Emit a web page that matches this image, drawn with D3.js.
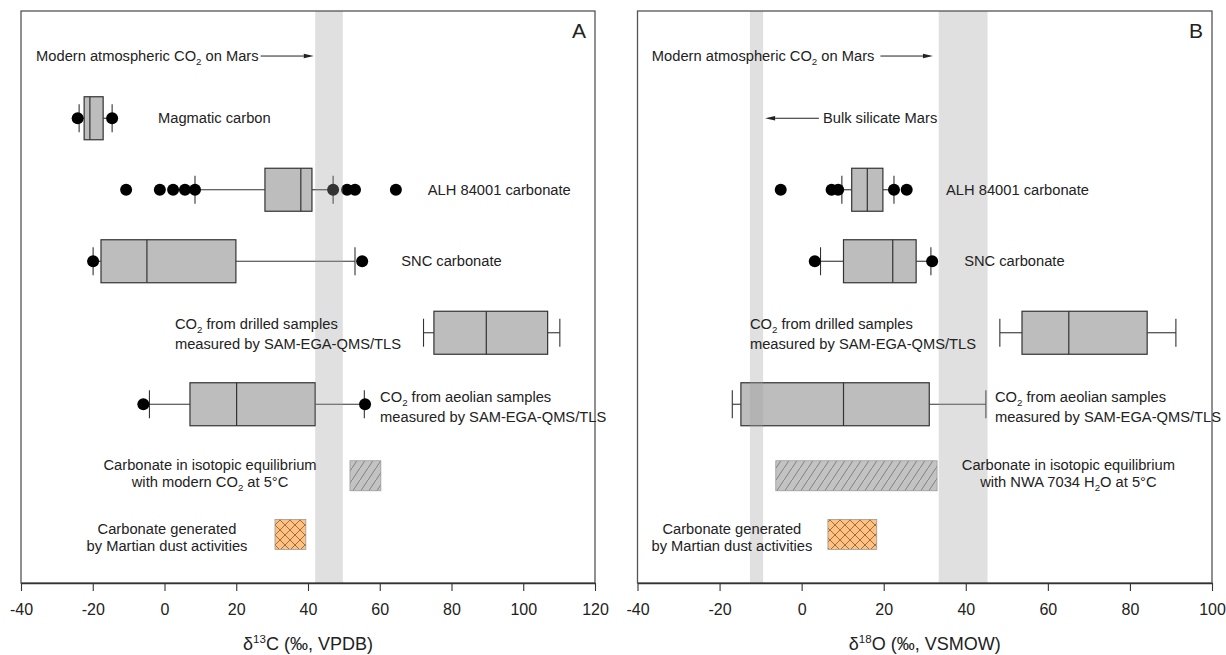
<!DOCTYPE html>
<html>
<head>
<meta charset="utf-8">
<script src="https://cdn.jsdelivr.net/npm/d3@7"></script>
<style>
body { margin: 0; background: #fff; }
text { font-family: "Liberation Sans", Arial, sans-serif; fill: #222; }
</style>
</head>
<body>
<svg id="chart" width="1226" height="655"></svg>
<script>
// ---- Panel A: d13C (permil, VPDB)
var carbonTicks = [-40, -20, 0, 20, 40, 60, 80, 100, 120];
var carbonBoxes = [
    {name: "magmatic", lo: -23.8, q1: -22.4, med: -20.8, q3: -17.1, hi: -14.6, out: [-24.2, -14.6]},
    {name: "alh",      lo: 8.5,   q1: 28.0,  med: 38.0,  q3: 41.1,  hi: 47.0,  out: [-10.7, -1.3, 2.4, 5.7, 8.5, 47.0, 50.9, 53.1, 64.5]},
    {name: "snc",      lo: -19.9, q1: -17.7, med: -4.9,  q3: 19.9,  hi: 53.1,  out: [-19.9, 55.1]},
    {name: "drilled",  lo: 72.2,  q1: 75.1,  med: 89.7,  q3: 106.8, hi: 110.2, out: []},
    {name: "aeolian",  lo: -4.2,  q1: 7.1,   med: 20.1,  q3: 42.0,  hi: 55.7,  out: [-5.9, 55.9]}
];
var carbonRanges = [
    {name: "equilibrium", lo: 51.7, hi: 60.3, kind: "hatch"},
    {name: "dust",        lo: 30.8, hi: 39.4, kind: "cross"}
];
var carbonBands = [[42.0, 49.7]];   // modern atmospheric CO2

// ---- Panel B: d18O (permil, VSMOW)
var oxygenTicks = [-40, -20, 0, 20, 40, 60, 80, 100];
var oxygenBoxes = [
    {name: "alh",     lo: 9.8,   q1: 12.2,  med: 16.0, q3: 19.8, hi: 22.5, out: [-5.1, 7.3, 8.9, 22.5, 25.6]},
    {name: "snc",     lo: 4.6,   q1: 10.2,  med: 22.2, q3: 27.9, hi: 31.5, out: [3.2, 31.8]},
    {name: "drilled", lo: 48.3,  q1: 53.7,  med: 65.1, q3: 84.2, hi: 91.2, out: []},
    {name: "aeolian", lo: -16.9, q1: -14.8, med: 10.2, q3: 31.1, hi: 44.9, out: []}
];
var oxygenRanges = [
    {name: "equilibrium", lo: -6.3, hi: 33.0, kind: "hatch"},
    {name: "dust",        lo: 6.4,  hi: 18.3, kind: "cross"}
];
var oxygenBands = [[-12.6, -9.4], [33.4, 45.3]];   // bulk silicate Mars, modern atmospheric CO2

// ---- label texts (_{..} = subscript)
var labelsA = {
    atmos: ["Modern atmospheric CO_{2} on Mars"],
    magmatic: ["Magmatic carbon"],
    alh: ["ALH 84001 carbonate"],
    snc: ["SNC carbonate"],
    drilled: ["CO_{2} from drilled samples", "measured by SAM-EGA-QMS/TLS"],
    aeolian: ["CO_{2} from aeolian samples", "measured by SAM-EGA-QMS/TLS"],
    equilibrium: ["Carbonate in isotopic equilibrium", "with modern CO_{2} at 5°C"],
    dust: ["Carbonate generated", "by Martian dust activities"]
};
var labelsB = {
    atmos: ["Modern atmospheric CO_{2} on Mars"],
    silicate: ["Bulk silicate Mars"],
    alh: ["ALH 84001 carbonate"],
    snc: ["SNC carbonate"],
    drilled: ["CO_{2} from drilled samples", "measured by SAM-EGA-QMS/TLS"],
    aeolian: ["CO_{2} from aeolian samples", "measured by SAM-EGA-QMS/TLS"],
    equilibrium: ["Carbonate in isotopic equilibrium", "with NWA 7034 H_{2}O at 5°C"],
    dust: ["Carbonate generated", "by Martian dust activities"]
};

// ---- layout
var rowOf = {atmos: 0.13, magmatic: 1, silicate: 1, alh: 2, snc: 3, drilled: 4, aeolian: 5, equilibrium: 6, dust: 6.82};
var lineOffsets = {
    1: [0],
    drilled: [-8.5, 11.5],
    aeolian: [-7, 13],
    equilibrium: [-10.5, 6.5],
    dust: [-5.5, 11.5]
};
var labelSize = 14.7;
var plotTop = 11, plotBottom = 583;
var y = d3.scaleLinear().domain([-0.5, 7.5]).range([plotTop, plotBottom]);

var panels = [
    {
        letter: "A", left: 21, right: 595, domain: [-40, 120], ticks: carbonTicks,
        boxes: carbonBoxes, ranges: carbonRanges, bands: carbonBands, labels: labelsA,
        axisTitle: ["δ", "13", "C (‰, VPDB)"],
        labelAt: {atmos: [-35.8, "start"], magmatic: [-1.8, "start"], alh: [73.4, "start"],
                  snc: [66.0, "start"], drilled: [2.9, "start"], aeolian: [60.1, "start"],
                  equilibrium: [12.7, "middle"], dust: [0.7, "middle"]},
        arrows: [{row: "atmos", from: 26.8, to: 41.6}]
    },
    {
        letter: "B", left: 637.5, right: 1212, domain: [-40, 100], ticks: oxygenTicks,
        boxes: oxygenBoxes, ranges: oxygenRanges, bands: oxygenBands, labels: labelsB,
        axisTitle: ["δ", "18", "O (‰, VSMOW)"],
        labelAt: {atmos: [-36.5, "start"], silicate: [5.2, "start"], alh: [35.2, "start"],
                  snc: [39.6, "start"], drilled: [-12.6, "start"], aeolian: [47.1, "start"],
                  equilibrium: [65.0, "middle"], dust: [-17.0, "middle"]},
        arrows: [{row: "atmos", from: 19.2, to: 32.0}, {row: "silicate", from: 4.2, to: -8.9}]
    }
];

var svg = d3.select("#chart");
var defs = svg.append("defs");

// diagonal hatch for the equilibrium range
var hatch = defs.append("pattern").attr("id", "hatch")
    .attr("patternUnits", "userSpaceOnUse").attr("width", 8).attr("height", 12);
hatch.append("rect").attr("width", 8).attr("height", 12).attr("fill", "#c3c3c3");
hatch.append("path").attr("d", "M-1,13.5L9,-1.5")
    .attr("stroke", "#6e6e6e").attr("stroke-width", 0.8);

// cross hatch for the dust range
var cross = defs.append("pattern").attr("id", "cross")
    .attr("patternUnits", "userSpaceOnUse").attr("width", 10).attr("height", 10);
cross.append("rect").attr("width", 10).attr("height", 10).attr("fill", "#ffc080");
cross.append("path").attr("d", "M0,0L10,10M10,0L0,10")
    .attr("stroke", "#6b4c2e").attr("stroke-width", 0.7);

// writes a text line, turning _{..} into subscripts
function richText(g, str, x, yy, anchor, size) {
    var t = g.append("text").attr("x", x).attr("y", yy)
        .attr("text-anchor", anchor).style("font-size", size + "px");
    var parts = str.split(/(_\{[^}]*\})/);
    var shifted = false;
    parts.forEach(function(p) {
        if (!p) return;
        if (p.indexOf("_{") === 0) {
            t.append("tspan").attr("dy", 4).style("font-size", (size * 0.66) + "px")
                .text(p.slice(2, -1));
            shifted = true;
        } else {
            var s = t.append("tspan").text(p);
            if (shifted) { s.attr("dy", -4); shifted = false; }
        }
    });
    return t;
}

function arrow(g, x1, x2, yy) {
    var dir = x2 > x1 ? 1 : -1, len = 10, half = 2.3;
    g.append("line").attr("x1", x1).attr("x2", x2 - dir * len)
        .attr("y1", yy).attr("y2", yy).attr("stroke", "#222").attr("stroke-width", 1);
    g.append("path")
        .attr("d", "M" + x2 + "," + yy + "L" + (x2 - dir * len) + "," + (yy - half) +
                   "L" + (x2 - dir * len) + "," + (yy + half) + "Z")
        .attr("fill", "#222");
}

panels.forEach(function(p) {
    var x = d3.scaleLinear().domain(p.domain).range([p.left, p.right]);
    var g = svg.append("g");
    var boxHalf = 21.5, capHalf = 14, rangeHalf = 15;

    // box plots
    var box = g.selectAll(".box").data(p.boxes).enter().append("g").attr("class", "box");
    box.append("line")
        .attr("x1", function(d) { return x(d.lo); }).attr("x2", function(d) { return x(d.q1); })
        .attr("y1", function(d) { return y(rowOf[d.name]); }).attr("y2", function(d) { return y(rowOf[d.name]); })
        .attr("stroke", "#333").attr("stroke-width", 1.1);
    box.append("line")
        .attr("x1", function(d) { return x(d.q3); }).attr("x2", function(d) { return x(d.hi); })
        .attr("y1", function(d) { return y(rowOf[d.name]); }).attr("y2", function(d) { return y(rowOf[d.name]); })
        .attr("stroke", "#333").attr("stroke-width", 1.1);
    ["lo", "hi"].forEach(function(k) {
        box.append("line")
            .attr("x1", function(d) { return x(d[k]); }).attr("x2", function(d) { return x(d[k]); })
            .attr("y1", function(d) { return y(rowOf[d.name]) - capHalf; })
            .attr("y2", function(d) { return y(rowOf[d.name]) + capHalf; })
            .attr("stroke", "#333").attr("stroke-width", 1.1);
    });
    box.append("rect")
        .attr("x", function(d) { return x(d.q1); })
        .attr("width", function(d) { return x(d.q3) - x(d.q1); })
        .attr("y", function(d) { return y(rowOf[d.name]) - boxHalf; })
        .attr("height", boxHalf * 2)
        .attr("fill", "#bdbdbd").attr("stroke", "#333").attr("stroke-width", 1.2);
    box.append("line")
        .attr("x1", function(d) { return x(d.med); }).attr("x2", function(d) { return x(d.med); })
        .attr("y1", function(d) { return y(rowOf[d.name]) - boxHalf; })
        .attr("y2", function(d) { return y(rowOf[d.name]) + boxHalf; })
        .attr("stroke", "#333").attr("stroke-width", 1.2);
    box.selectAll("circle")
        .data(function(d) { return d.out.map(function(v) { return {v: v, row: rowOf[d.name]}; }); })
        .enter().append("circle")
        .attr("cx", function(d) { return x(d.v); })
        .attr("cy", function(d) { return y(d.row); })
        .attr("r", 6).attr("fill", "#000");

    // patterned ranges
    g.selectAll(".range").data(p.ranges).enter().append("rect")
        .attr("x", function(d) { return x(d.lo); })
        .attr("width", function(d) { return x(d.hi) - x(d.lo); })
        .attr("y", function(d) { return y(rowOf[d.name]) - rangeHalf; })
        .attr("height", rangeHalf * 2)
        .attr("fill", function(d) { return "url(#" + d.kind + ")"; })
        .attr("stroke", "#9a9a9a").attr("stroke-width", 0.8);

    // reference bands
    g.selectAll(".band").data(p.bands).enter().append("rect")
        .attr("x", function(d) { return x(d[0]); })
        .attr("width", function(d) { return x(d[1]) - x(d[0]); })
        .attr("y", plotTop).attr("height", plotBottom - plotTop)
        .attr("fill", "#a0a0a0").attr("fill-opacity", 0.32);

    // frame
    g.append("rect").attr("x", p.left).attr("y", plotTop)
        .attr("width", p.right - p.left).attr("height", plotBottom - plotTop)
        .attr("fill", "none").attr("stroke", "#555").attr("stroke-width", 1.3);

    // axis
    var ax = g.append("g").attr("transform", "translate(0," + plotBottom + ")")
        .call(d3.axisBottom(x).tickValues(p.ticks).tickSize(8).tickPadding(13)
            .tickSizeOuter(0).tickFormat(function(d) { return String(d); }));
    ax.attr("font-family", null).attr("font-size", null);
    ax.select(".domain").attr("stroke", "#333").attr("stroke-width", 1.6);
    ax.selectAll(".tick line").attr("stroke", "#333").attr("stroke-width", 1.1);
    ax.selectAll(".tick text").style("font-size", "16px").attr("fill", "#222");

    var title = g.append("text").attr("x", (p.left + p.right) / 2).attr("y", 650)
        .attr("text-anchor", "middle").style("font-size", "18px");
    title.append("tspan").text(p.axisTitle[0]);
    title.append("tspan").attr("dy", -7).style("font-size", "11.5px").text(p.axisTitle[1]);
    title.append("tspan").attr("dy", 7).text(p.axisTitle[2]);

    // panel letter
    g.append("text").attr("x", p.right - 9).attr("y", 38).attr("text-anchor", "end")
        .style("font-size", "21px").text(p.letter);

    // labels
    Object.keys(p.labels).forEach(function(k) {
        var lines = p.labels[k];
        var offs = lines.length === 1 ? lineOffsets[1] : lineOffsets[k];
        var pos = p.labelAt[k];
        lines.forEach(function(str, i) {
            richText(g, str, x(pos[0]), y(rowOf[k]) + offs[i] + 5, pos[1], labelSize);
        });
    });

    // arrows
    p.arrows.forEach(function(a) {
        arrow(g, x(a.from), x(a.to), y(rowOf[a.row]));
    });
});
</script>
</body>
</html>
